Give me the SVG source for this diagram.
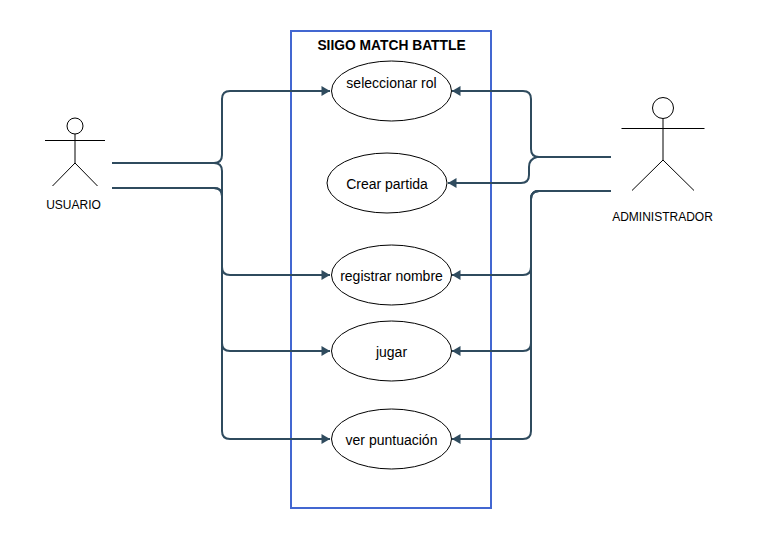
<svg xmlns="http://www.w3.org/2000/svg" width="762" height="548" viewBox="0 0 762 548">
<style>
text{font-family:"Liberation Sans",Arial,sans-serif;fill:#000;text-anchor:middle}
.uc{fill:#fff;stroke:#000;stroke-width:1}
.l{font-size:14px}
.s{font-size:12px}
.a{fill:none;stroke:#000;stroke-width:1}
.c{fill:none;stroke:#2f4b5e;stroke-width:2}
</style>
<defs><marker id="arr" markerUnits="userSpaceOnUse" markerWidth="12" markerHeight="12" refX="10" refY="6" orient="auto"><path d="M1.500 1L10 6L1.500 11Z" fill="#2f4b5e"/></marker></defs>
<rect id="frame" x="291" y="31" width="200" height="477" fill="#fff" stroke="#4367d1" stroke-width="2"/>
<text x="391.500" y="49.500" font-size="13.800" font-weight="bold">SIIGO MATCH BATTLE</text>
<g id="connectors">
<path class="c" marker-end="url(#arr)" d="M112 163H214Q222 163 222 155V99Q222 91 230 91H330"/>
<path class="c" marker-end="url(#arr)" d="M112 163H214Q222 163 222 171V267Q222 275 230 275H330"/>
<path class="c" marker-end="url(#arr)" d="M112 188H214Q222 188 222 196V343Q222 351 230 351H330"/>
<path class="c" marker-end="url(#arr)" d="M112 188H214Q222 188 222 196V431Q222 439 230 439H330"/>
<path class="c" marker-end="url(#arr)" d="M611 157H539Q531 157 531 149V99Q531 91 523 91H452"/>
<path class="c" marker-end="url(#arr)" d="M611 157H537Q529 159 529 167V175Q529 183 521 183H448"/>
<path class="c" marker-end="url(#arr)" d="M611 191H539Q531 191 531 199V267Q531 275 523 275H452"/>
<path class="c" marker-end="url(#arr)" d="M611 191H539Q531 191 531 199V343Q531 351 523 351H452"/>
<path class="c" marker-end="url(#arr)" d="M611 191H539Q531 191 531 199V431Q531 439 523 439H452"/>
</g>
<g id="uc-seleccionar"><ellipse class="uc" cx="391.500" cy="91" rx="60" ry="30"/><text class="l" x="391.500" y="88">seleccionar rol</text></g>
<g id="uc-crear"><ellipse class="uc" cx="387" cy="183" rx="60" ry="30"/><text class="l" x="387" y="189">Crear partida</text></g>
<g id="uc-registrar"><ellipse class="uc" cx="391.500" cy="275" rx="60" ry="30"/><text class="l" x="391.500" y="281">registrar nombre</text></g>
<g id="uc-jugar"><ellipse class="uc" cx="391.500" cy="351" rx="60" ry="30"/><text class="l" x="391.500" y="357">jugar</text></g>
<g id="uc-ver"><ellipse class="uc" cx="391.500" cy="439" rx="60" ry="30"/><text class="l" x="391.500" y="445">ver puntuación</text></g>
<g id="usuario"><circle class="a" cx="75" cy="126" r="8"/><path class="a" d="M75 134V163M45 140.500H105M75 163L52.500 186M75 163L97.500 186"/><text class="s" x="73.500" y="209">USUARIO</text></g>
<g id="administrador"><circle class="a" cx="663" cy="108" r="10.500"/><path class="a" d="M663 118.500V160M621.500 128.500H704.500M663 160L632 190.500M663 160L694 190.500"/><text class="s" x="662.500" y="221">ADMINISTRADOR</text></g>
</svg>
